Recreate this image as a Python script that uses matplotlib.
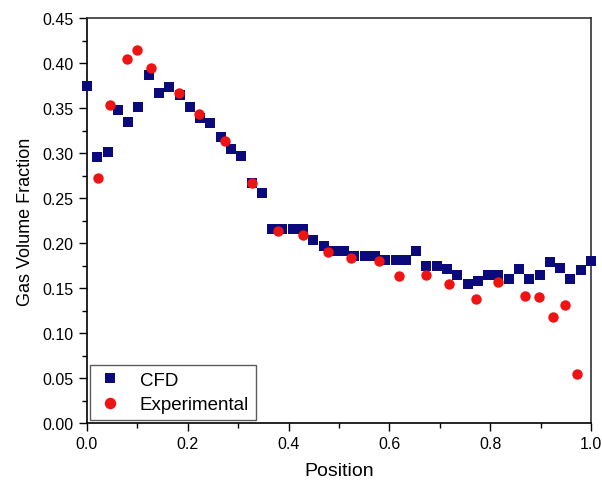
import numpy as np
import matplotlib
matplotlib.use("Agg")
import matplotlib.pyplot as plt
from matplotlib.ticker import MultipleLocator

plt.rcParams['font.family'] = ['Liberation Sans', 'DejaVu Sans']

# CFD: 50 evenly spaced positions
cfd_x = np.linspace(0.0, 1.0, 50)
cfd_y = [0.374, 0.296, 0.301, 0.348, 0.334, 0.351, 0.387, 0.367, 0.373, 0.365,
         0.351, 0.339, 0.333, 0.318, 0.304, 0.297, 0.267, 0.256, 0.216, 0.216,
         0.216, 0.216, 0.203, 0.197, 0.191, 0.191, 0.186, 0.186, 0.186, 0.181,
         0.181, 0.181, 0.191, 0.175, 0.174, 0.171, 0.164, 0.155, 0.158, 0.164,
         0.164, 0.160, 0.171, 0.160, 0.164, 0.179, 0.172, 0.160, 0.170, 0.180]

exp_x = [0.021, 0.046, 0.080, 0.100, 0.126, 0.183, 0.223, 0.274, 0.327, 0.379,
         0.429, 0.478, 0.524, 0.579, 0.620, 0.673, 0.719, 0.772, 0.816, 0.870,
         0.897, 0.925, 0.948, 0.973]
exp_y = [0.272, 0.353, 0.404, 0.414, 0.394, 0.367, 0.343, 0.313, 0.267, 0.213,
         0.209, 0.190, 0.183, 0.180, 0.163, 0.164, 0.155, 0.138, 0.157, 0.141,
         0.140, 0.118, 0.131, 0.055]

fig = plt.figure(figsize=(6.02, 4.85), dpi=100)
ax = fig.add_axes([87 / 602, 1 - 424 / 485, 504 / 602, 405 / 485])

ax.plot(cfd_x, cfd_y, 's', color='#0a0a7a', markersize=6.6, markeredgewidth=0,
        label='CFD', clip_on=False, zorder=3)
ax.plot(exp_x, exp_y, 'o', color='#ee1414', markersize=7.5, markeredgewidth=0,
        label='Experimental', clip_on=False, zorder=4)

ax.set_xlim(0, 1.0)
ax.set_ylim(0, 0.45)
ax.xaxis.set_major_locator(MultipleLocator(0.2))
ax.xaxis.set_minor_locator(MultipleLocator(0.1))
ax.yaxis.set_major_locator(MultipleLocator(0.05))
ax.yaxis.set_minor_locator(MultipleLocator(0.025))
ax.xaxis.set_major_formatter(lambda v, p: f"{v:.1f}")
ax.yaxis.set_major_formatter(lambda v, p: f"{v:.2f}")

ax.tick_params(which='major', direction='out', length=6, width=1, labelsize=11.5)
ax.tick_params(which='minor', direction='out', length=3.5, width=1)
ax.tick_params(top=False, right=False)

for s in ['left', 'bottom']:
    ax.spines[s].set_linewidth(1.2)
    ax.spines[s].set_color('black')
for s in ['top', 'right']:
    ax.spines[s].set_linewidth(1.2)
    ax.spines[s].set_color('#333333')

ax.set_xlabel('Position', fontsize=14, labelpad=8)
ax.set_ylabel('Gas Volume Fraction', fontsize=13, labelpad=6)

leg = ax.legend(loc='lower left', bbox_to_anchor=(0.006, 0.008), fontsize=13.5,
                frameon=True, fancybox=False, borderaxespad=0, handlelength=1.4,
                handletextpad=0.9, borderpad=0.35, labelspacing=0.4,
                markerscale=1.1)
leg.get_frame().set_edgecolor('#333333')
leg.get_frame().set_linewidth(1.0)

fig.savefig('out.png', dpi=100)
